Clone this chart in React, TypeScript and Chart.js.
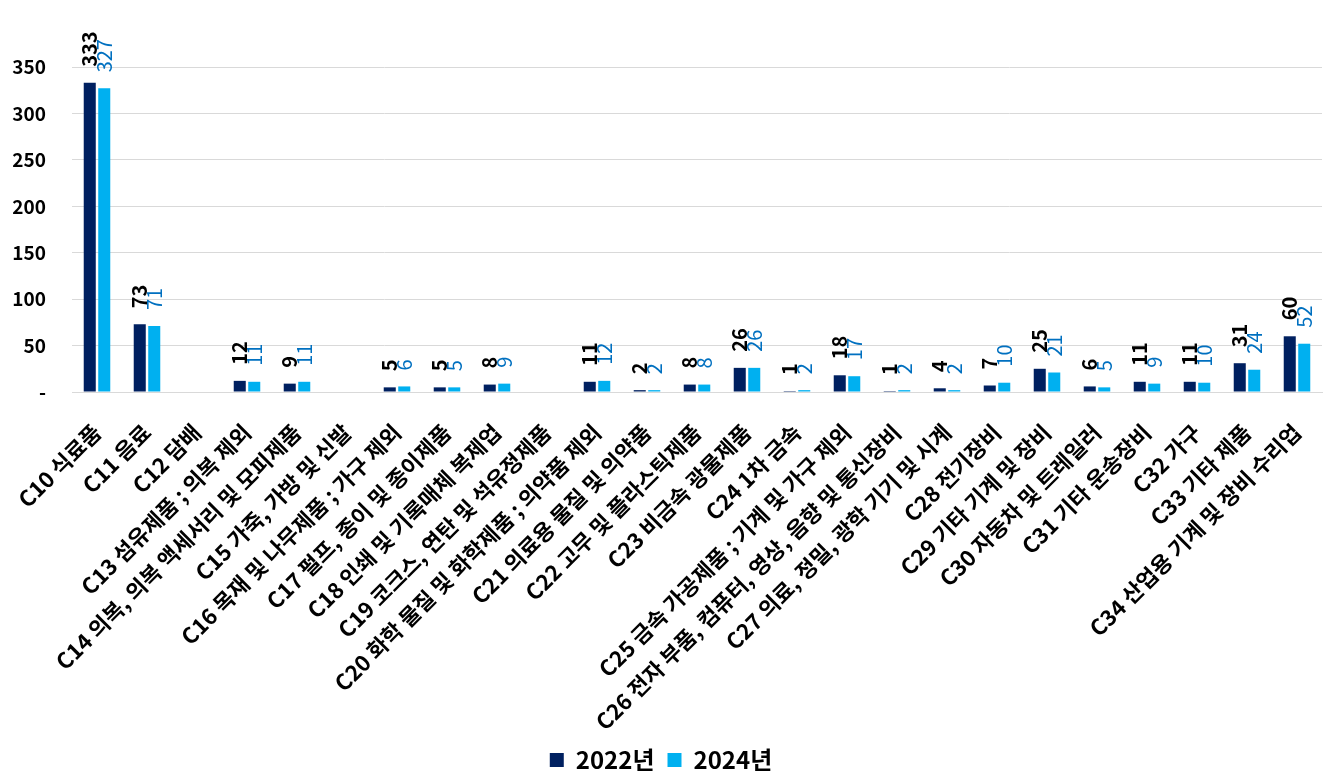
import React, { useEffect, useRef } from "react";
import { Chart, registerables } from "chart.js";

Chart.register(...registerables);

const categories: string[] = [
  "C10 식료품",
  "C11 음료",
  "C12 담배",
  "C13 섬유제품 ; 의복 제외",
  "C14 의복, 의복 액세서리 및 모피제품",
  "C15 가죽, 가방 및 신발",
  "C16 목재 및 나무제품 ; 가구 제외",
  "C17 펄프, 종이 및 종이제품",
  "C18 인쇄 및 기록매체 복제업",
  "C19 코크스, 연탄 및 석유정제품",
  "C20 화학 물질 및 화학제품 ; 의약품 제외",
  "C21 의료용 물질 및 의약품",
  "C22 고무 및 플라스틱제품",
  "C23 비금속 광물제품",
  "C24 1차 금속",
  "C25 금속 가공제품 ; 기계 및 가구 제외",
  "C26 전자 부품, 컴퓨터, 영상, 음향 및 통신장비",
  "C27 의료, 정밀, 광학 기기 및 시계",
  "C28 전기장비",
  "C29 기타 기계 및 장비",
  "C30 자동차 및 트레일러",
  "C31 기타 운송장비",
  "C32 가구",
  "C33 기타 제품",
  "C34 산업용 기계 및 장비 수리업",
];

const values2022: (number | null)[] = [
  333, 73, null, 12, 9, null, 5, 5, 8, null, 11, 2, 8, 26, 1, 18, 1, 4, 7, 25, 6, 11, 11, 31, 60,
];
const values2024: (number | null)[] = [
  327, 71, null, 11, 11, null, 6, 5, 9, null, 12, 2, 8, 26, 2, 17, 2, 2, 10, 21, 5, 9, 10, 24, 52,
];

const seriesLabels = ["2022년", "2024년"];
const yTicks = [0, 50, 100, 150, 200, 250, 300, 350];

const FONT = "'Noto Sans CJK KR', 'Noto Sans', sans-serif";

const dataLabelPlugin = {
  id: "rotatedDataLabels",
  afterDatasetsDraw(chart: any) {
    const ctx = chart.ctx;
    chart.data.datasets.forEach((ds: any, di: number) => {
      const meta = chart.getDatasetMeta(di);
      meta.data.forEach((el: any, i: number) => {
        const v = ds.data[i];
        if (v === null || v === undefined) return;
        ctx.save();
        ctx.translate(el.x, el.y);
        ctx.rotate(-Math.PI / 2);
        ctx.font = di === 0 ? `bold 20px ${FONT}` : `20px ${FONT}`;
        ctx.fillStyle = di === 0 ? "#000000" : "#0070C0";
        ctx.textAlign = "left";
        ctx.textBaseline = "middle";
        ctx.fillText(String(v), 16, 0);
        ctx.restore();
      });
    });
  },
};

export default function App() {
  const ref = useRef<HTMLCanvasElement | null>(null);

  useEffect(() => {
    document.body.style.margin = "0";
    if (!ref.current) return;
    const chart = new Chart(ref.current, {
      type: "bar",
      data: {
        labels: categories,
        datasets: [
          {
            label: seriesLabels[0],
            data: values2022,
            backgroundColor: "#002060",
            categoryPercentage: 0.58,
            barPercentage: 0.83,
          },
          {
            label: seriesLabels[1],
            data: values2024,
            backgroundColor: "#00B0F0",
            categoryPercentage: 0.58,
            barPercentage: 0.83,
          },
        ],
      },
      options: {
        animation: false,
        responsive: false,
        maintainAspectRatio: false,
        layout: { padding: { top: 67, right: 22, left: 0, bottom: 0 } },
        plugins: {
          legend: {
            position: "bottom",
            labels: {
              boxWidth: 14,
              boxHeight: 14,
              padding: 13,
              color: "#000",
              font: { family: FONT, size: 24, weight: "bold" },
            },
          },
          tooltip: { enabled: false },
        },
        scales: {
          x: {
            grid: { display: false, drawTicks: false },
            border: { display: true, color: "#d9d9d9" },
            ticks: {
              autoSkip: false,
              maxRotation: 45,
              minRotation: 45,
              padding: 27,
              color: "#000",
              font: { family: FONT, size: 22, weight: "bold" },
            },
            afterFit: (scale: any) => {
              scale.height = 343;
              scale.paddingLeft = 0;
              scale.paddingRight = 0;
            },
          },
          y: {
            min: 0,
            max: 350,
            afterBuildTicks: (scale: any) => {
              scale.ticks = yTicks.map((v) => ({ value: v }));
            },
            grid: { color: "#d9d9d9", drawTicks: false },
            border: { display: false },
            ticks: {
              padding: 26,
              color: "#000",
              font: { family: FONT, size: 19, weight: "bold" },
              callback: (v: any) => (Number(v) === 0 ? "-" : String(v)),
            },
            afterFit: (scale: any) => {
              scale.width = 72;
            },
          },
        },
      },
      plugins: [dataLabelPlugin],
    });
    return () => chart.destroy();
  }, []);

  return (
    <div style={{ position: "fixed", left: 0, top: 0, width: 1344, height: 782, background: "#fff" }}>
      <canvas ref={ref} width={1344} height={782} style={{ width: 1344, height: 782 }} />
    </div>
  );
}
